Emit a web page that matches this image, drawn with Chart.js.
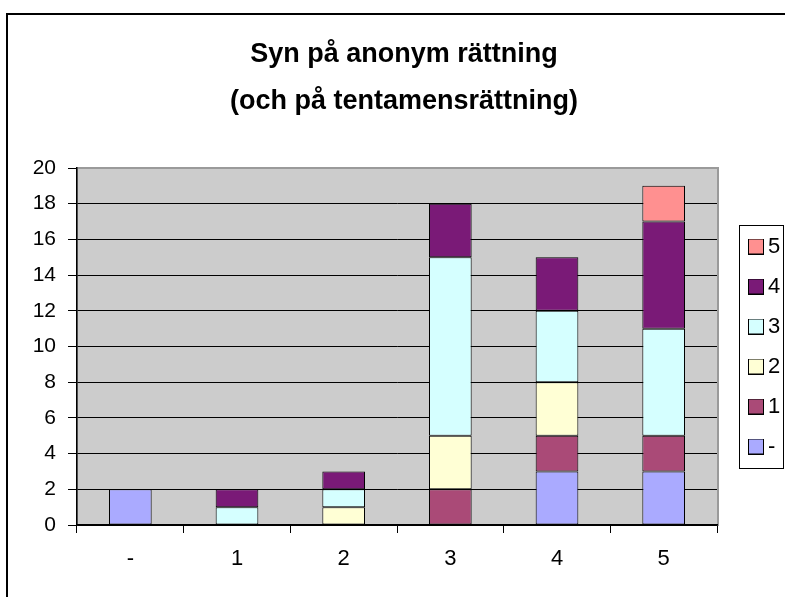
<!DOCTYPE html>
<html>
<head>
<meta charset="utf-8">
<script src="https://cdn.jsdelivr.net/npm/chart.js@4/dist/chart.umd.min.js"></script>
<style>
  html, body { margin: 0; padding: 0; background: #fff; }
  #wrap { width: 785px; height: 597px; }
</style>
</head>
<body>
<div id="wrap"><canvas id="myChart" width="785" height="597"></canvas></div>
<script>
// categories on the x axis
const categories = ['-', '1', '2', '3', '4', '5']
// series names (legend)
const seriesNames = ['-', '1', '2', '3', '4', '5']
// values for each series, per category
const valsDash = [2, 0, 0, 0, 3, 3]
const vals1 = [0, 0, 0, 2, 2, 2]
const vals2 = [0, 0, 1, 3, 3, 0]
const vals3 = [0, 1, 1, 10, 4, 6]
const vals4 = [0, 1, 1, 3, 3, 6]
const vals5 = [0, 0, 0, 0, 0, 2]
const seriesColors = ['#AAAAFF', '#AA4A77', '#FFFFD5', '#D5FFFF', '#7A1A77', '#FF9090']
// y axis ticks
const yMin = 0, yMax = 20, yStep = 2

const allVals = [valsDash, vals1, vals2, vals3, vals4, vals5]
const FONT = 'Liberation Sans, Arial, sans-serif'

const datasets = allVals.map((vals, i) => ({
	label: seriesNames[i],
	data: vals.map(v => v === 0 ? null : v),
	backgroundColor: seriesColors[i],
	borderColor: '#000',
	borderWidth: 1,
	borderSkipped: false,
	barPercentage: 0.4,
	categoryPercentage: 1.0
}))

// legend swatch: square drawn near the right end of a small canvas,
// so it sits close to its label like in the original
function swatch(color) {
	const c = document.createElement('canvas')
	c.width = 36
	c.height = 16
	const g = c.getContext('2d')
	g.fillStyle = color
	g.fillRect(20, 0, 16, 16)
	g.strokeStyle = '#000'
	g.lineWidth = 1
	g.strokeRect(20.5, 0.5, 15, 15)
	return c
}
const swatches = seriesColors.map(swatch)

const framePlugin = {
	id: 'frame',
	beforeDraw(chart) {
		const ctx = chart.ctx
		const a = chart.chartArea
		ctx.save()
		ctx.fillStyle = '#fff'
		ctx.fillRect(0, 0, chart.width, chart.height)
		ctx.strokeStyle = '#000'
		ctx.lineWidth = 2
		ctx.strokeRect(7, 14, chart.width + 20, chart.height + 20)
		ctx.fillStyle = '#CCCCCC'
		ctx.fillRect(a.left, a.top, a.right - a.left, a.bottom - a.top)
		ctx.strokeStyle = '#9a9a9a'
		ctx.lineWidth = 2
		ctx.strokeRect(a.left, a.top, a.right - a.left + 1, a.bottom - a.top)
		ctx.restore()
	},
	afterDraw(chart) {
		const hb = chart.legend.legendHitBoxes
		if (!hb || !hb.length) return
		const ctx = chart.ctx
		const first = hb[0], last = hb[hb.length - 1]
		ctx.save()
		ctx.strokeStyle = '#000'
		ctx.lineWidth = 1
		const x0 = Math.round(first.left) + 4.5
		const y0 = Math.round(first.top) - 10.5
		const y1 = Math.round(last.top + last.height) + 10.5
		ctx.strokeRect(x0, y0, 783.5 - x0, y1 - y0)
		ctx.restore()
	}
}

new Chart(document.getElementById('myChart').getContext('2d'), {
	type: 'bar',
	data: {
		labels: categories,
		datasets: datasets
	},
	options: {
		responsive: false,
		animation: false,
		layout: { padding: { left: 23, top: 14, right: 0, bottom: 0 } },
		plugins: {
			title: {
				display: true,
				text: ['Syn på anonym rättning', '(och på tentamensrättning)'],
				color: '#000',
				font: { family: FONT, size: 27, weight: 'bold', lineHeight: 47 / 27 },
				padding: { top: 17.5, bottom: 42.5 }
			},
			legend: {
				position: 'right',
				fullSize: false,
				reverse: true,
				maxWidth: 68,
				labels: {
					color: '#000',
					font: { family: FONT, size: 22 },
					usePointStyle: true,
					pointStyleWidth: 22,
					padding: 18,
					generateLabels(chart) {
						const items = Chart.defaults.plugins.legend.labels.generateLabels(chart)
						items.forEach(it => { it.pointStyle = swatches[it.datasetIndex] })
						return items
					}
				}
			},
			tooltip: { enabled: false }
		},
		scales: {
			x: {
				stacked: true,
				grid: {
					drawOnChartArea: false,
					offset: true,
					tickLength: 8,
					tickColor: '#000',
					tickWidth: 1
				},
				border: { color: '#000', width: 1.5 },
				ticks: { color: '#000', font: { family: FONT, size: 22 }, padding: 13 },
				afterFit(scale) { scale.height = 72 }
			},
			y: {
				stacked: true,
				min: yMin,
				max: yMax,
				grid: {
					color: ctx => ctx.tick && ctx.tick.value === yMax ? 'rgba(0,0,0,0)' : '#000',
					tickColor: '#000',
					tickLength: 9,
					lineWidth: 1
				},
				border: { color: '#000', width: 1.5 },
				ticks: { stepSize: yStep, color: '#000', font: { family: FONT, size: 21 }, padding: 12 },
				afterFit(scale) { scale.width = 54 }
			}
		}
	},
	plugins: [framePlugin]
})
</script>
</body>
</html>
